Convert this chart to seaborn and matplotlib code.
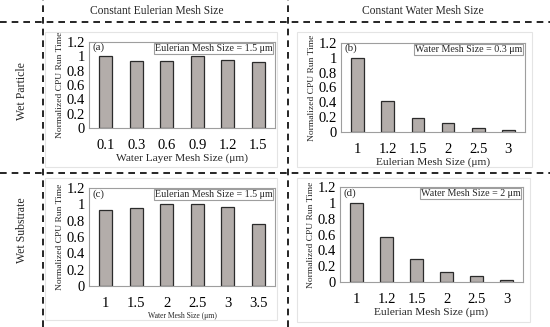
import matplotlib
matplotlib.use("Agg")
import matplotlib.pyplot as plt
import seaborn as sns
from matplotlib.lines import Line2D
from matplotlib.patches import Rectangle

# panel data
water_layer_sizes = ["0.1", "0.3", "0.6", "0.9", "1.2", "1.5"]
cpu_a = [1.0, 0.93, 0.94, 1.0, 0.95, 0.92]

eulerian_sizes_b = ["1", "1.2", "1.5", "2", "2.5", "3"]
cpu_b = [1.0, 0.42, 0.19, 0.12, 0.05, 0.03]

water_sizes_c = ["1", "1.5", "2", "2.5", "3", "3.5"]
cpu_c = [0.93, 0.95, 1.0, 1.0, 0.97, 0.76]

eulerian_sizes_d = ["1", "1.2", "1.5", "2", "2.5", "3"]
cpu_d = [1.0, 0.57, 0.29, 0.13, 0.07, 0.03]

y_ticks = [0, 0.2, 0.4, 0.6, 0.8, 1.0, 1.2]
y_tick_labels = ["0", "0.2", "0.4", "0.6", "0.8", "1", "1.2"]

sns.set_theme(style="white")
plt.rcParams['font.family'] = ['Liberation Serif', 'DejaVu Serif']

W, H = 550, 327
fig = plt.figure(figsize=(5.5, 3.27), dpi=100)


def rect(l, t, r, b):
    return [l / W, 1 - b / H, (r - l) / W, (b - t) / H]


BAR = "#b3adaa"
FRAME = "#9e9e9e"

panels = [
    ((89, 42, 275, 128), water_layer_sizes, cpu_a, "(a)",
     "Eulerian Mesh Size = 1.5 μm", "Water Layer Mesh Size (μm)", 8.2),
    ((341, 43, 525, 132), eulerian_sizes_b, cpu_b, "(b)",
     "Water Mesh Size = 0.3 μm", "Eulerian Mesh Size (μm)", 8.2),
    ((89, 188, 275, 286), water_sizes_c, cpu_c, "(c)",
     "Eulerian Mesh Size = 1.5 μm", "Water Mesh Size (μm)", 5.5),
    ((340, 187, 523, 282), eulerian_sizes_d, cpu_d, "(d)",
     "Water Mesh Size = 2 μm", "Eulerian Mesh Size (μm)", 8.2),
]

# faint frames around each subplot
for l, t, r, b in [(45, 32, 277, 167), (297, 32, 532, 167),
                   (45, 178, 277, 320), (297, 178, 530, 322)]:
    fig.patches.append(Rectangle((l / W, 1 - b / H), (r - l) / W, (b - t) / H,
                                 transform=fig.transFigure, fill=False,
                                 edgecolor="#e4e4e4", linewidth=0.8))

for box, cats, vals, tag, note, xlab, xlab_size in panels:
    ax = fig.add_axes(rect(*box))
    sns.barplot(x=cats, y=vals, order=cats, color=BAR, saturation=1,
                width=0.42, edgecolor="#2b2b2b", linewidth=0.9, ax=ax)
    ax.set_xlim(-0.55, len(cats) - 0.45)
    ax.set_ylim(0, 1.2)
    ax.set_yticks(y_ticks)
    ax.set_yticklabels(y_tick_labels)
    ax.tick_params(axis="both", length=0, labelsize=10.5, colors="black")
    ax.tick_params(axis="x", pad=8)
    ax.tick_params(axis="y", pad=3)
    for s in ax.spines.values():
        s.set_color(FRAME)
        s.set_linewidth(0.8)
    ax.set_ylabel("Normalized CPU Run Time", fontsize=6.8, labelpad=2)
    ax.set_xlabel(xlab, fontsize=xlab_size, labelpad=1)
    ax.text(0.02, 0.99, tag, transform=ax.transAxes, ha="left", va="top",
            fontsize=7.8)
    ax.text(0.985, 0.975, note, transform=ax.transAxes, ha="right", va="top",
            fontsize=7.2,
            bbox=dict(boxstyle="square,pad=0.1", facecolor="white",
                      edgecolor=FRAME, linewidth=0.8))

# dashed grid separating rows/cols
dash = dict(color="black", linewidth=1.2, linestyle=(0, (4, 3)),
            transform=fig.transFigure)
for y in (22, 173):
    fig.add_artist(Line2D([0, 1], [1 - y / H, 1 - y / H], **dash))
for x in (43, 288):
    fig.add_artist(Line2D([x / W, x / W], [0, 1], **dash))

fig.text(157 / W, 1 - 11 / H, "Constant Eulerian Mesh Size", ha="center",
         va="center", fontsize=8.3)
fig.text(423 / W, 1 - 11 / H, "Constant Water Mesh Size", ha="center",
         va="center", fontsize=8.3)
fig.text(22 / W, 1 - 91 / H, "Wet Particle", ha="center", va="center",
         rotation=90, fontsize=8.5)
fig.text(22 / W, 1 - 230 / H, "Wet Substrate", ha="center", va="center",
         rotation=90, fontsize=8.5)

fig.savefig("out.png", dpi=100)
plt.close(fig)
